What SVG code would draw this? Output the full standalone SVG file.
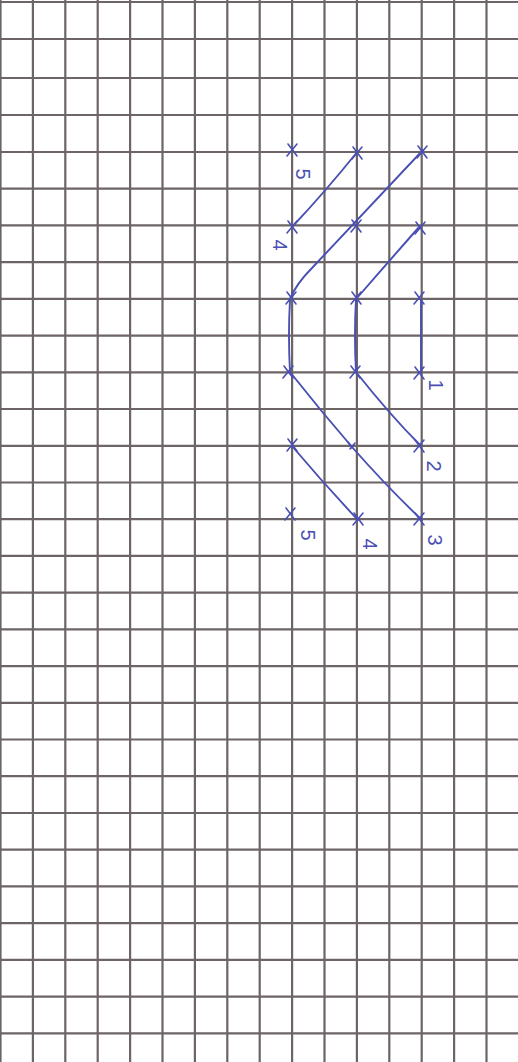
<svg xmlns="http://www.w3.org/2000/svg" width="518" height="1062" viewBox="0 0 518 1062">
<style>
.g{stroke:#6d6466;stroke-width:2.2;fill:none}
.pen{stroke:#4a4fb3;stroke-width:1.9;fill:none;stroke-linecap:round;stroke-linejoin:round}
.x{stroke:#4a4fb3;stroke-width:1.6;fill:none;stroke-linecap:round}
.lbl{font-family:"Liberation Sans",Arial,sans-serif;font-size:20px;fill:#4a4fb3;text-anchor:middle;dominant-baseline:central}
</style>
<defs>
<g id="cross"><path class="x" d="M-4,-6 L5,6 M5,-6 L-5,6"/></g>
</defs>
<rect width="518" height="1062" fill="#ffffff"/>
<g id="grid">
<path class="g" d="M0.5,0V1062 M32.9,0V1062 M65.3,0V1062 M97.7,0V1062 M130.1,0V1062 M162.5,0V1062 M194.9,0V1062 M227.3,0V1062 M259.7,0V1062 M292.1,0V1062 M324.5,0V1062 M356.9,0V1062 M389.3,0V1062 M421.7,0V1062 M454.1,0V1062 M486.5,0V1062"/>
<path class="g" d="M0,2H518 M0,39H518 M0,78H518 M0,115H518 M0,152H518 M0,188.7H518 M0,225.4H518 M0,262.2H518 M0,298.9H518 M0,335.6H518 M0,372.3H518 M0,409H518 M0,445.8H518 M0,482.5H518 M0,519.2H518 M0,555.9H518 M0,592.6H518 M0,629.4H518 M0,666.1H518 M0,702.8H518 M0,739.5H518 M0,776.2H518 M0,813H518 M0,849.7H518 M0,886.4H518 M0,923.1H518 M0,959.8H518 M0,996.6H518 M0,1033.3H518"/>
</g>
<g id="connectors">
<path class="pen" d="M292,227 Q325,192 358,151"/>
<path class="pen" d="M290,299 Q296,284 312,268 L423,150"/>
<path class="pen" d="M357,298 Q390,260 420,226"/>
<path class="pen" d="M290,300 Q288,335 290,372"/>
<path class="pen" d="M356,300 Q354,335 356,372"/>
<path class="pen" d="M421,300 L421,372"/>
<path class="pen" d="M290,372 Q320,410 352,447 Q390,490 422,520"/>
<path class="pen" d="M356,372 Q390,415 421,446"/>
<path class="pen" d="M292,446 Q325,485 358,520"/>
</g>
<g id="n-5-top"><use href="#cross" x="292" y="150"/><text class="lbl" transform="translate(303,174) rotate(90)">5</text></g>
<g id="n-r4c11"><use href="#cross" x="357" y="153"/></g>
<g id="n-r4c13"><use href="#cross" x="422" y="152"/></g>
<g id="n-4-top"><use href="#cross" x="292" y="227"/><text class="lbl" transform="translate(280,245) rotate(90)">4</text></g>
<g id="n-r6c11"><use href="#cross" x="356" y="226"/></g>
<g id="n-r6c13"><use href="#cross" x="420" y="228"/></g>
<g id="n-r8c9"><use href="#cross" x="291" y="298"/></g>
<g id="n-r8c11"><use href="#cross" x="356" y="298"/></g>
<g id="n-r8c13"><use href="#cross" x="419" y="298"/></g>
<g id="n-r10c9"><use href="#cross" x="288" y="372"/></g>
<g id="n-r10c11"><use href="#cross" x="355" y="372"/></g>
<g id="n-1"><use href="#cross" x="419" y="373"/><text class="lbl" transform="translate(436,385) rotate(90)">1</text></g>
<g id="n-r12c9"><use href="#cross" x="292" y="445"/></g>
<g id="n-r12c11"><path class="x" d="M348,442 L352,448 M355,443 L350,449"/></g>
<g id="n-2"><use href="#cross" x="419" y="446"/><text class="lbl" transform="translate(434,466) rotate(90)">2</text></g>
<g id="n-5-bottom"><use href="#cross" x="290" y="514"/><text class="lbl" transform="translate(308,535) rotate(90)">5</text></g>
<g id="n-4-bottom"><use href="#cross" x="358" y="519"/><text class="lbl" transform="translate(370,544) rotate(90)">4</text></g>
<g id="n-3"><use href="#cross" x="419" y="519"/><text class="lbl" transform="translate(435,540) rotate(90)">3</text></g>
</svg>
